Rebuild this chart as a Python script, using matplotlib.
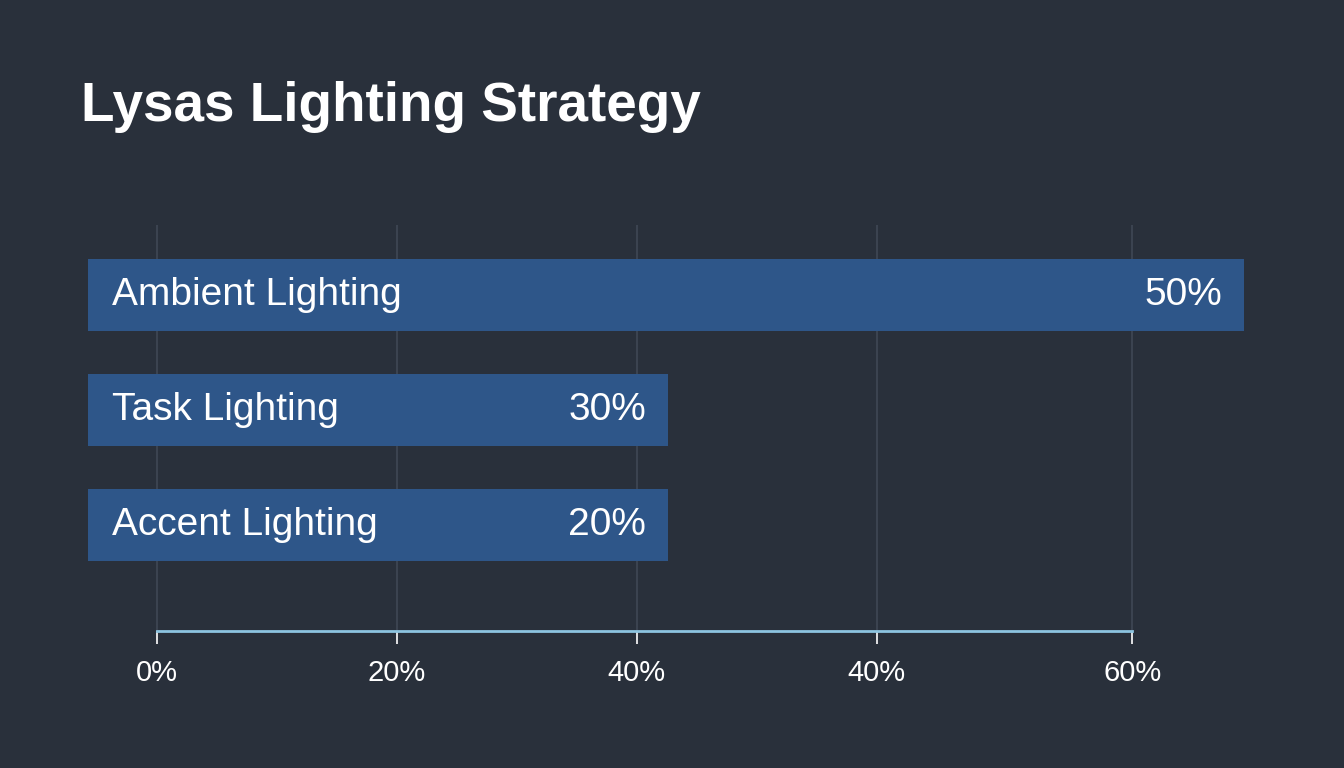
import matplotlib
matplotlib.use("Agg")
import matplotlib.pyplot as plt

# ---- data ----
categories = ["Ambient Lighting", "Task Lighting", "Accent Lighting"]
value_labels = ["50%", "30%", "20%"]
# bar ends as drawn, in units of the axis (percent scale of the gridlines)
bar_ends = [90.6, 42.6, 42.6]
bar_start = -5.75
tick_positions = [0, 20, 40, 60, 81.3]
tick_labels = ["0%", "20%", "40%", "40%", "60%"]
title = "Lysas Lighting Strategy"

BG = "#29303b"
BAR = "#2e5689"
GRID = "#3d4653"
AXIS = "#8cc4e0"

plt.rcParams['font.family'] = ['Liberation Sans', 'DejaVu Sans']

fig = plt.figure(figsize=(13.44, 7.68), dpi=100, facecolor=BG)
W, H = 1344, 768
left_px, right_px = 88, 1244
top_px, bot_px = 225, 631
ax = fig.add_axes([left_px / W, 1 - bot_px / H, (right_px - left_px) / W, (bot_px - top_px) / H])
ax.set_facecolor(BG)

y = list(range(len(categories)))
widths = [e - bar_start for e in bar_ends]
ax.barh(y, widths, left=bar_start, height=0.626, color=BAR, zorder=2)

for yi, cat, lab, end in zip(y, categories, value_labels, bar_ends):
    ax.annotate(cat, xy=(bar_start, yi), xytext=(17, 0), textcoords="offset points",
                ha="left", va="center", color="white", fontsize=28, zorder=3)
    ax.annotate(lab, xy=(end, yi), xytext=(-16, 0), textcoords="offset points",
                ha="right", va="center", color="white", fontsize=28, zorder=3)

ax.set_xlim(bar_start, bar_ends[0])
ax.set_ylim(2.922, -0.609)

ax.set_xticks(tick_positions)
ax.set_xticklabels(tick_labels, color="white", fontsize=21)
ax.tick_params(axis="x", colors="white", length=9, width=1.2, pad=11, labelcolor="white")
ax.set_yticks([])
ax.grid(axis="x", color=GRID, linewidth=1.3, zorder=0)
ax.set_axisbelow(True)

for s in ["top", "right", "left"]:
    ax.spines[s].set_visible(False)
ax.spines["bottom"].set_color(AXIS)
ax.spines["bottom"].set_linewidth(2)
ax.spines["bottom"].set_bounds(tick_positions[0], tick_positions[-1])

fig.text(81 / W, 1 - 121 / H, title, color="white", fontsize=39.5, fontweight="bold",
         ha="left", va="baseline")

fig.savefig("out.png", dpi=100, facecolor=BG)
